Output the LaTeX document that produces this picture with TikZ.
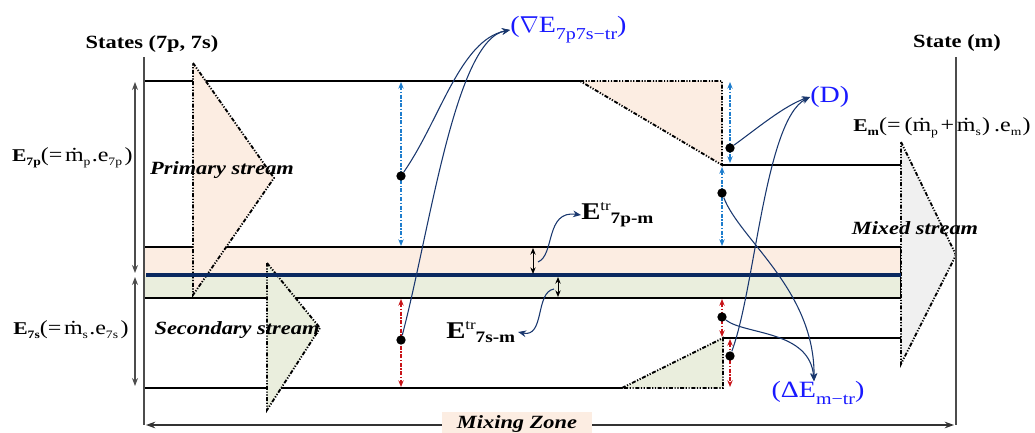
\documentclass[tikz,border=0pt]{standalone}
\usepackage{fontspec}
\setmainfont{Liberation Serif}[FakeStretch=1.2]
\usetikzlibrary{arrows.meta}
\definecolor{peach}{RGB}{252,237,226}
\definecolor{sgreen}{RGB}{234,238,221}
\definecolor{mgray}{RGB}{240,240,240}
\definecolor{navyline}{RGB}{10,40,95}
\definecolor{cblue}{RGB}{30,125,205}
\definecolor{cred}{RGB}{200,20,25}
\definecolor{lblue}{RGB}{25,25,255}
\definecolor{conn}{RGB}{25,55,110}
\newcommand{\fs}[1]{\fontsize{#1}{#1}\selectfont}
\newcommand{\sbx}[2]{\raisebox{-3pt}{\fs{#1}#2}}
\begin{document}
\begin{tikzpicture}[x=0.75pt,y=-0.75pt,
  ln/.style={draw=black, line width=0.9pt},
  wall/.style={draw=black!70, line width=1.3pt},
  tri/.style={draw=black, line width=1.4pt, dash pattern=on 3pt off 1.2pt on 0.9pt off 1.2pt on 0.9pt off 1.2pt},
  bdash/.style={cblue, line width=0.9pt, dash pattern=on 3pt off 1.2pt on 1pt off 1.2pt, {Stealth[length=5pt,width=4pt]}-{Stealth[length=5pt,width=4pt]}},
  rdash/.style={cred, line width=0.9pt, dash pattern=on 3pt off 1.2pt on 1pt off 1.2pt, {Stealth[length=5pt,width=4pt]}-{Stealth[length=5pt,width=4pt]}},
  blk/.style={black, line width=0.7pt, {Stealth[length=5pt,width=4pt]}-{Stealth[length=5pt,width=4pt]}},
  dim/.style={black!70, line width=0.9pt, {Stealth[length=6pt,width=4.5pt]}-{Stealth[length=6pt,width=4.5pt]}},
  dotn/.style={circle, fill=black, inner sep=0pt, minimum size=7pt},
  cn/.style={conn, line width=0.8pt, -{Stealth[length=6pt,width=5pt]}},
  hdr/.style={inner sep=0pt, font=\fs{14}\bfseries},
  strm/.style={inner sep=0pt, font=\fs{14}\bfseries\itshape},
  lab/.style={inner sep=0pt, font=\fs{15}},
  blab/.style={inner sep=0pt, text=lblue, font=\fs{17.5}}
]
\useasboundingbox (0,0) rectangle (1035,432);
% bands
\fill[peach] (144,247) rectangle (901,275);
\fill[sgreen] (144,275) rectangle (901,298);
\draw[ln] (144,247) -- (901,247);
\draw[ln] (144,298) -- (901,298);
\draw[ln] (901,247) -- (901,298);
\draw[ln] (144,81) -- (580,81);
\draw[ln] (144,388) -- (622,388);
\draw[ln] (722,165) -- (901,165);
\draw[ln] (723,338) -- (901,338);
% stream arrows
\filldraw[tri, fill=peach] (193,63) -- (274,178) -- (193,295) -- cycle;
\filldraw[tri, fill=sgreen] (267,263) -- (320,328) -- (267,410) -- cycle;
\filldraw[tri, fill=peach] (580,81) -- (722,81) -- (722,165) -- cycle;
\filldraw[tri, fill=sgreen] (622,388) -- (723,338) -- (723,388) -- cycle;
\filldraw[tri, fill=mgray] (901,142) -- (956,255) -- (901,364) -- cycle;
\draw[navyline, line width=2.6pt] (146,275) -- (901,275);
% walls
\draw[wall] (144,57) -- (144,425);
\draw[wall] (956,57) -- (956,425);
% coordinates
\coordinate (l1a) at (135,82);  \coordinate (l1b) at (135,273);
\coordinate (l2a) at (135,277); \coordinate (l2b) at (135,386);
\coordinate (a1a) at (401,82);  \coordinate (a1b) at (401,246);
\coordinate (a2a) at (730,82);  \coordinate (a2b) at (730,163);
\coordinate (a3a) at (722,167); \coordinate (a3b) at (722,246);
\coordinate (r1a) at (401,299); \coordinate (r1b) at (401,387);
\coordinate (r2a) at (722,299); \coordinate (r2b) at (722,337);
\coordinate (r3a) at (730,339); \coordinate (r3b) at (730,387);
\coordinate (b1a) at (533,248); \coordinate (b1b) at (533,274);
\coordinate (b2a) at (558,277); \coordinate (b2b) at (558,297);
\coordinate (mza) at (146,425); \coordinate (mzb) at (954,425);
\coordinate (c7a) at (538,262); \coordinate (c8a) at (554,289);
% dimension arrows
\draw[dim] (l1a) -- (l1b);
\draw[dim] (l2a) -- (l2b);
\draw[bdash] (a1a) -- (a1b);
\draw[bdash] (a2a) -- (a2b);
\draw[bdash] (a3a) -- (a3b);
\draw[rdash] (r1a) -- (r1b);
\draw[rdash] (r2a) -- (r2b);
\draw[rdash] (r3a) -- (r3b);
\draw[blk] (b1a) -- (b1b);
\draw[blk] (b2a) -- (b2b);
\draw[black!80, line width=0.9pt, {Stealth[length=7pt,width=5pt]}-{Stealth[length=7pt,width=5pt]}] (mza) -- (mzb);
% dots
\node[dotn] (d1) at (401,176) {};
\node[dotn] (d2) at (730,148) {};
\node[dotn] (d3) at (722,193) {};
\node[dotn] (d4) at (401,340) {};
\node[dotn] (d5) at (722,317) {};
\node[dotn] (d6) at (730,356) {};
% labels
\node[hdr] (st1) at (152,44) {States (7p, 7s)};
\node[hdr] (st2) at (957,43) {State (m)};
\node[lab, anchor=east] (e7p) at (133,158) {{\fs{13.5}\bfseries E}\sbx{8.5}{\bfseries 7p}(=\kern2pt\.m\sbx{8.5}{p}\kern1pt.e\sbx{8.5}{7p}\kern2pt)};
\node[lab, anchor=east] (e7s) at (129,330) {{\fs{13.5}\bfseries E}\sbx{8.5}{\bfseries 7s}(=\kern2pt\.m\sbx{8.5}{s}\kern1pt.e\sbx{8.5}{7s}\kern2pt)};
\node[lab, anchor=west] (em) at (853,128) {{\fs{13.5}\bfseries E}\sbx{8.5}{\bfseries m}(=\kern3pt(\.m\sbx{8.5}{p}\kern2pt+\kern2pt\.m\sbx{8.5}{s}\kern1pt)\kern3pt.e\sbx{8.5}{m}\kern1pt)};
\node[strm] (ps) at (222,170) {Primary stream};
\node[strm] (ss) at (237,330) {Secondary stream};
\node[strm] (ms) at (915,228) {Mixed stream};
\node[blab, anchor=west] (nab) at (510,30) {($\nabla$E\raisebox{-5pt}{\fs{12.5}7p7s−tr})};
\node[blab, anchor=west] (dd) at (810,97) {(D)};
\node[blab] (de) at (818,393) {(ΔE\raisebox{-5pt}{\fs{12.5}m−tr})};
\node[inner sep=0pt, anchor=west] (etr1) at (581,215) {\fs{18}\bfseries E\raisebox{7pt}{\fs{10.5}\mdseries tr}\raisebox{-3pt}{\fs{12}\bfseries 7p-m}};
\node[inner sep=0pt, anchor=west] (etr2) at (446,332) {\fs{18}\bfseries E\raisebox{7pt}{\fs{10.5}\mdseries tr}\raisebox{-3pt}{\fs{12}\bfseries 7s-m}};
\node[strm, fill=peach, inner xsep=11pt, inner ysep=3pt] (mz) at (517,424) {Mixing Zone};
% connectors
\draw[cn] (d1) .. controls (440,120) and (460,40) .. (nab.west);
\draw[cn] (d4) .. controls (430,230) and (455,40) .. (nab.west);
\draw[cn] (d2) .. controls (755,130) and (785,105) .. (dd.west);
\draw[cn] (d6) .. controls (755,290) and (765,120) .. (dd.west);
\draw[cn] (d3) .. controls (740,240) and (815,290) .. ([xshift=-3pt]de.north);
\draw[cn] (d5) .. controls (745,335) and (810,330) .. ([xshift=-3pt]de.north);
\draw[cn] (c7a) .. controls (555,255) and (545,210) .. (etr1.west);
\draw[cn] (c8a) .. controls (535,292) and (545,338) .. ([xshift=2pt]etr2.east);
\end{tikzpicture}
\end{document}
